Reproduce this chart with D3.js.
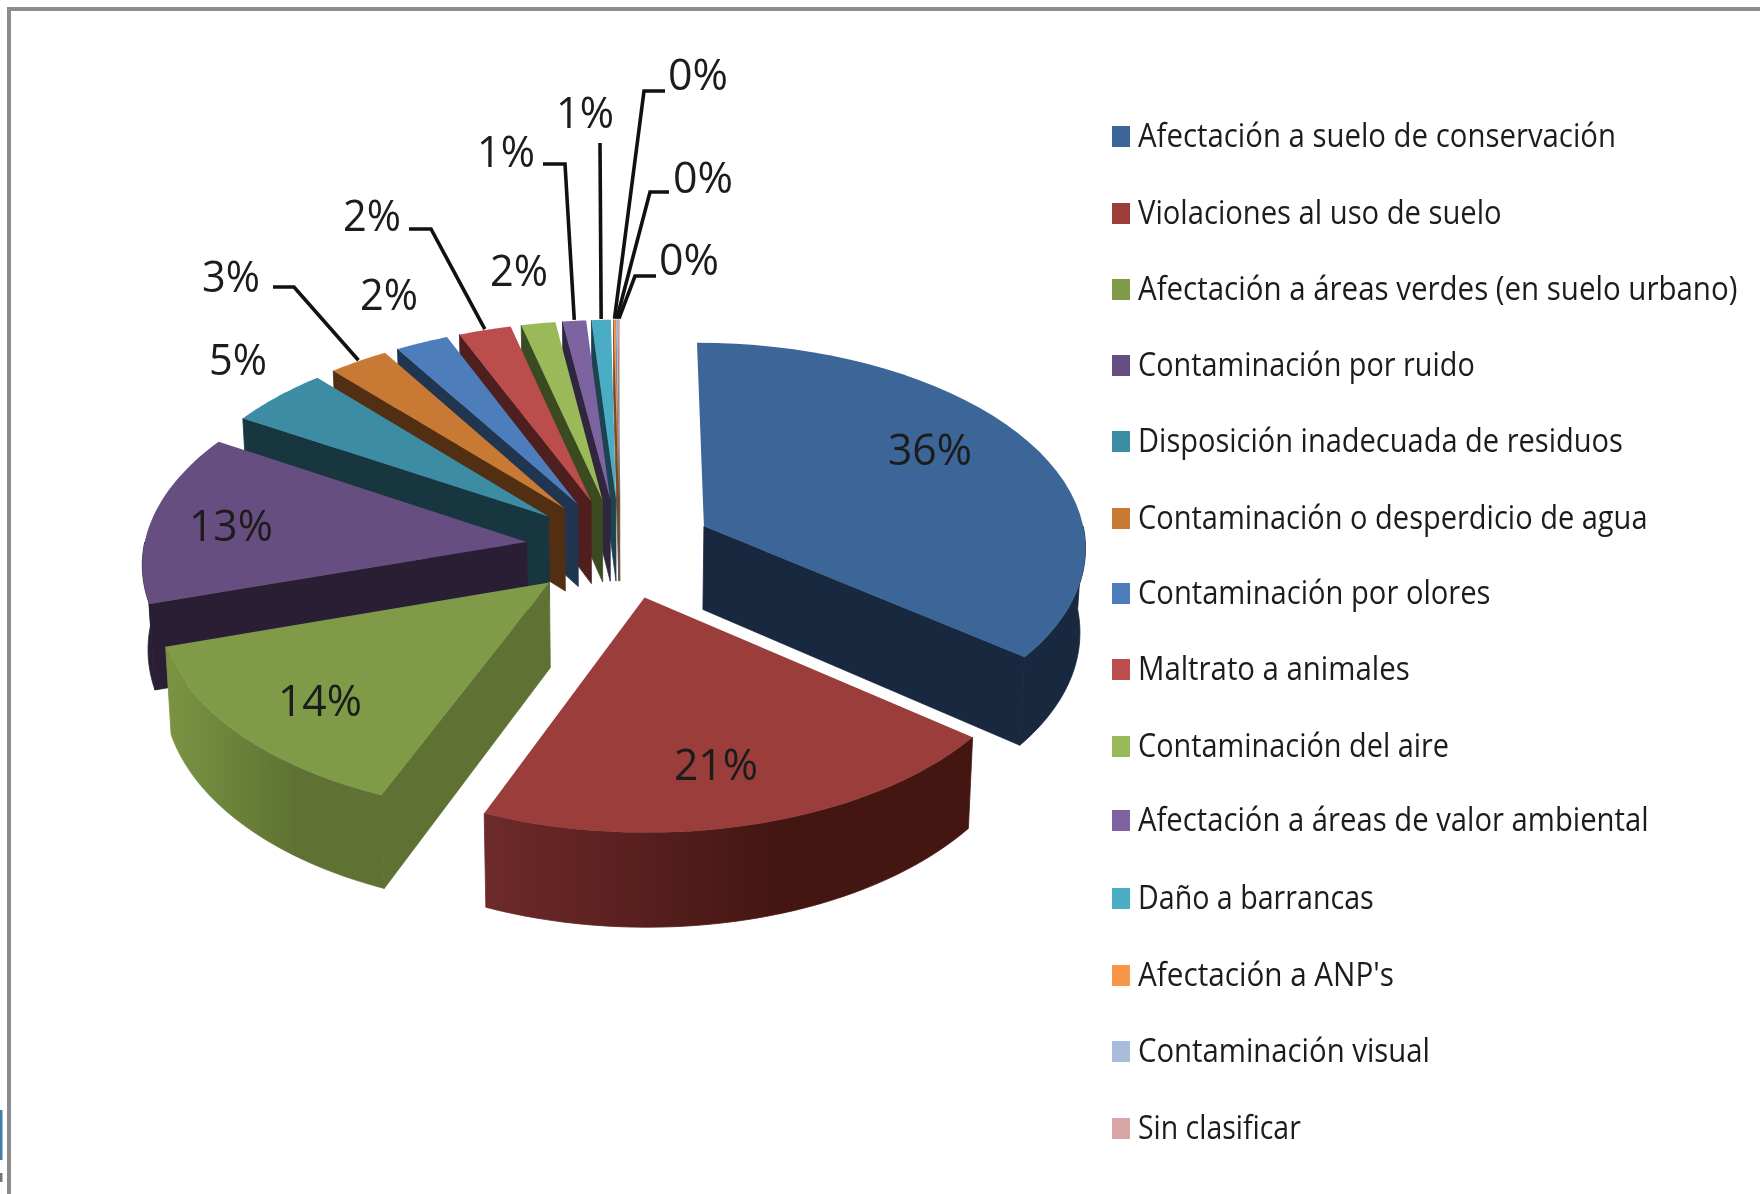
<!DOCTYPE html>
<html><head><meta charset="utf-8">
<script src="https://cdn.jsdelivr.net/npm/d3@7/dist/d3.min.js"></script>
<style>html,body{margin:0;background:#fff}svg{display:block;filter:blur(.55px)}text{font-family:"Open Sans","Noto Sans",sans-serif;fill:#1c1c1c}</style>
</head><body><svg id="c" width="1760" height="1194"></svg>
<script>
// ---- data ----
const categories=["Afectación a suelo de conservación","Violaciones al uso de suelo","Afectación a áreas verdes (en suelo urbano)","Contaminación por ruido","Disposición inadecuada de residuos","Contaminación o desperdicio de agua","Contaminación por olores","Maltrato a animales","Contaminación del aire","Afectación a áreas de valor ambiental","Daño a barrancas","Afectación a ANP's","Contaminación visual","Sin clasificar"];
const values=[35.6,20.6,14,13.45,4.75,2.8,2.49,2.46,1.6,1.1,0.9,0.09,0.08,0.08];
const labels=["36%","21%","14%","13%","5%","3%","2%","2%","2%","1%","1%","0%","0%","0%"];
const topColors=["#3c6698","#9a3d3b","#7f9b47","#674e80","#3c8ca4","#c87933","#4d7dba","#bb4e4c","#9aba59","#7d63a0","#4aacc5","#f79646","#a9bcd9","#d7a6a5"];
const sideColors=["#18283f","#441612","#5f7233","#2a1e35","#17363f","#522f12","#1f3550","#4f1e1e","#3c4a22","#31263f","#1c4350","#7a4a22","#55606e","#6b5352"];
const rimLeftColors=["#18283f","#6e2a2b","#7a9443","#2a1e35","#17363f","#522f12","#1f3550","#4f1e1e","#3c4a22","#31263f","#1c4350","#7a4a22","#55606e","#6b5352"];
// ---- layout ----
const labelAt=[[930,449],[716,764],[320,700],[231,525],[238,359],[231,276],[389,294],[372,215],[519,270],[506,151],[585,112],[698,74],[703,177],[689,259]];
const labelW=[84,84,84,84,58,58,58,58,58,58,58,60,60,60];
const leaders={5:[[273,287],[294,287]],7:[[409,229],[431,229]],9:[[543,164],[565,164]],10:[[600,143]],11:[[665,91],[644,91]],12:[[669,192],[650,192]],13:[[656,276],[635,276]]};
const legendY=[136,213,289,365,441,518,593,669,746,820,898,975,1051,1128];
const legendEnd=[1440,1338,1548,1314,1446,1468,1328,1256,1291,1469,1224,1242,1274,1159].map(d=>d*1760/1568);
const paintOrder=[13,12,11,10,9,8,7,6,5,4,3,2,0,1];
const k=0.091, R=383, Ry=204, H=84, cx=620, cy=548, explode=0.246, taper=0.012;
const xS=d3.scaleLinear().domain([-1,1]).range([cx-R,cx+R]);
const yS=d3.scaleLinear().domain([-1,1]).range([cy-Ry,cy+Ry]);
const svg=d3.select("#c");
const defs=svg.append("defs");
function proj(u,v,z){const w=1/(1-k*v);return [cx+(xS(u)-cx)*w*(1-taper*z),cy+(yS(v)-cy)*w+H*z*w];}
const line=d3.line();
const slices=d3.pie().sort(null).value(d=>d)(values);

svg.append("rect").attr("width",1760).attr("height",1194).attr("fill","#fff");
// frame
svg.append("path").attr("d","M9,1194V9H1760").attr("fill","none").attr("stroke","#8c8c8c").attr("stroke-width",4);
svg.append("rect").attr("x",0).attr("y",1110).attr("width",2.5).attr("height",50).attr("fill","#3f7fa8");
svg.append("rect").attr("x",0).attr("y",1173).attr("width",2.5).attr("height",9).attr("fill","#777");

paintOrder.forEach(i=>{
  const s=slices[i],a1=s.startAngle,a2=s.endAngle,mid=(a1+a2)/2;
  const ox=Math.sin(mid)*explode, oy=-Math.cos(mid)*explode;
  const P=(a,r,z)=>proj(ox+r*Math.sin(a),oy-r*Math.cos(a),z);
  const arcPts=(b1,b2,z)=>d3.range(0,41).map(t=>P(b1+(b2-b1)*t/40,1,z));
  const g=svg.append("g");
  // rim
  const rA=Math.max(a1,Math.PI/2),rB=Math.min(a2,1.5*Math.PI);
  if(rB>rA){
    const id="rim"+i,pa=P(rA,1,0),pb=P(rB,1,0);
    const x0=Math.min(pa[0],pb[0]),x1=Math.max(pa[0],pb[0]);
    const gr=defs.append("linearGradient").attr("id",id).attr("gradientUnits","userSpaceOnUse").attr("x1",x0).attr("x2",x1).attr("y1",0).attr("y2",0);
    gr.append("stop").attr("offset",0).attr("stop-color",rimLeftColors[i]);
    gr.append("stop").attr("offset",0.6).attr("stop-color",sideColors[i]);
    g.append("path").attr("d",line(arcPts(rA,rB,0).concat(arcPts(rA,rB,1).reverse()))+"Z").attr("fill",`url(#${id})`).attr("stroke",`url(#${id})`).attr("stroke-width",0.8);
  }
  // radial walls
  const wall=a=>g.append("path").attr("d",line([P(a,0,0),P(a,1,0),P(a,1,1),P(a,0,1)])+"Z").attr("fill",sideColors[i]).attr("stroke",sideColors[i]).attr("stroke-width",0.8);
  if(Math.sin(a1)<-1e-6) wall(a1);
  if(Math.sin(a2)>1e-6) wall(a2);
  // top face
  g.append("path").attr("d",line([P(a1,0,0)].concat(arcPts(a1,a2,0)))+"Z").attr("fill",topColors[i]);
});

// leaders
Object.keys(leaders).forEach(i=>{
  const s=slices[+i],mid=(s.startAngle+s.endAngle)/2;
  const ox=Math.sin(mid)*(1+explode),oy=-Math.cos(mid)*(1+explode);
  const end=proj(ox,oy,0);
  svg.append("path").attr("d",line(leaders[i].concat([[end[0],end[1]-1]]))).attr("fill","none").attr("stroke","#111").attr("stroke-width",3.6);
});
// labels
svg.selectAll("text.lab").data(labels).join("text").attr("class","lab")
 .attr("x",(d,i)=>labelAt[i][0]).attr("y",(d,i)=>labelAt[i][1]+16).attr("text-anchor","middle")
 .attr("font-size",44).attr("textLength",(d,i)=>labelW[i]).attr("lengthAdjust","spacingAndGlyphs").text(d=>d);
// legend
const lg=svg.selectAll("g.lg").data(categories).join("g").attr("class","lg");
lg.append("rect").attr("x",1112).attr("y",(d,i)=>legendY[i]-10).attr("width",18).attr("height",21).attr("fill",(d,i)=>topColors[i]);
lg.append("text").attr("font-size",33).text(d=>d)
 .attr("transform",function(d,i){const sx=(legendEnd[i]-1138)/this.getComputedTextLength();return `translate(1138,${legendY[i]+11}) scale(${sx},1)`;});
</script></body></html>
